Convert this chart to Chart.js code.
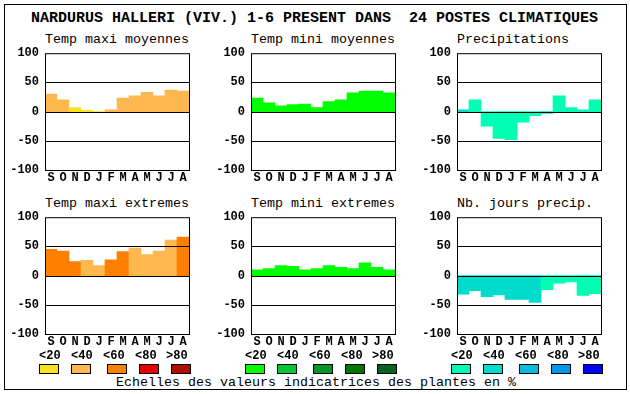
<!DOCTYPE html>
<html>
<head>
<meta charset="utf-8">
<script src="https://cdn.jsdelivr.net/npm/chart.js@4.4.0/dist/chart.umd.min.js"></script>
<style>
  body { margin: 0; background: #fff; }
  #page { position: relative; width: 630px; height: 394px; overflow: hidden; font-family: "Liberation Mono", monospace; color: #000; }
  #frame { position: absolute; left: 4px; top: 4px; width: 621px; height: 384px; border: 1px solid #000; }
  .txt { position: absolute; white-space: pre; line-height: 1; }
  .sub { font-size: 13.33px; }
  .lg { position: absolute; font-size: 12px; font-weight: bold; line-height: 1; white-space: pre; }
  .sw { position: absolute; width: 18px; height: 8px; border: 1px solid #000; }
  canvas { position: absolute; }
</style>
</head>
<body>
<div id="page">
  <div id="frame"></div>
  <div class="txt" style="left:31px; top:11px; font-size:15px; font-weight:bold;">NARDURUS HALLERI (VIV.) 1-6 PRESENT DANS  24 POSTES CLIMATIQUES</div>
  <div class="txt sub" style="left:116px; top:375.5px;">Echelles des valeurs indicatrices des plantes en %</div>
</div>
<script>
// Donnees
var months = ["S", "O", "N", "D", "J", "F", "M", "A", "M", "J", "J", "A"];
var yTicks = [-100, -50, 0, 50, 100];
var gridLines = [50, 0, -50];
var classLabels = ["<20", "<40", "<60", "<80", ">80"];

var orangeScale = ["#f8e41c", "#ffb850", "#ff8000", "#e80000", "#b00c00"];
var greenScale = ["#00ff00", "#00c832", "#009628", "#007800", "#006420"];
var blueScale = ["#00ffb4", "#00dccc", "#00bcdc", "#0098e8", "#0000ff"];

var tempMaxiMoy = [30, 20, 7, 2, 0, 3, 23, 27, 33, 27, 37, 35];
var tempMaxiMoyCls = [1, 1, 0, 0, 0, 1, 1, 1, 1, 1, 1, 1];
var tempMiniMoy = [23, 15, 10, 12, 13, 7, 17, 20, 32, 35, 35, 32];
var tempMiniMoyCls = [0, 0, 0, 0, 0, 0, 0, 0, 0, 0, 0, 0];
var precip = [3, 20, -25, -46, -48, -18, -7, -3, 27, 7, 3, 20];
var precipCls = [1, 0, 0, 0, 0, 0, 0, 1, 0, 0, 0, 0];
var tempMaxiExt = [45, 42, 24, 26, 17, 27, 41, 47, 36, 42, 61, 66];
var tempMaxiExtCls = [2, 2, 2, 1, 1, 2, 2, 1, 1, 1, 1, 2];
var tempMiniExt = [10, 12, 17, 16, 10, 12, 17, 14, 12, 22, 14, 10];
var tempMiniExtCls = [0, 0, 0, 0, 0, 0, 0, 0, 0, 0, 0, 0];
var joursPrecip = [-32, -26, -36, -33, -41, -41, -46, -24, -13, -11, -34, -31];
var joursPrecipCls = [1, 1, 1, 1, 1, 1, 1, 0, 0, 0, 0, 0];

var page = document.getElementById("page");
var tickFont = { family: "Liberation Mono", size: 12, weight: "bold" };

// Cadre et lignes 50 / 0 / -50 par-dessus les barres
var framePlugin = {
  id: "frame",
  afterDatasetsDraw: function (chart) {
    var ctx = chart.ctx;
    var a = chart.chartArea;
    var y = chart.scales.y;
    ctx.save();
    ctx.strokeStyle = "#000";
    ctx.lineWidth = 1;
    ctx.beginPath();
    gridLines.forEach(function (v) {
      var py = Math.round(y.getPixelForValue(v)) + 0.5;
      ctx.moveTo(a.left, py);
      ctx.lineTo(a.right, py);
    });
    ctx.stroke();
    ctx.strokeRect(a.left + 0.5, a.top + 0.5, a.right - a.left, a.bottom - a.top);
    ctx.restore();
  }
};

function addText(cls, text, left, top) {
  var d = document.createElement("div");
  d.className = cls;
  d.textContent = text;
  d.style.left = left + "px";
  d.style.top = top + "px";
  page.appendChild(d);
}

function makeChart(title, values, cls, palette, left, top) {
  addText("txt sub", title, left, top - 17.5);

  var cv = document.createElement("canvas");
  cv.width = 200;
  cv.height = 150;
  cv.style.left = (left - 45) + "px";
  cv.style.top = (top - 10) + "px";
  page.appendChild(cv);

  new Chart(cv.getContext("2d"), {
    type: "bar",
    data: {
      labels: months,
      datasets: [{
        data: values,
        backgroundColor: cls.map(function (c) { return palette[c]; }),
        borderWidth: 0,
        categoryPercentage: 1,
        barPercentage: 1
      }]
    },
    options: {
      responsive: false,
      animation: false,
      devicePixelRatio: 1,
      layout: { padding: { top: 10, right: 11, left: 0, bottom: 0 } },
      plugins: { legend: { display: false }, tooltip: { enabled: false } },
      scales: {
        x: {
          grid: { display: false, drawTicks: false },
          border: { display: false },
          ticks: { font: tickFont, color: "#000", padding: 1, maxRotation: 0, autoSkip: false },
          afterFit: function (s) { s.height = 20; }
        },
        y: {
          min: -100,
          max: 100,
          afterBuildTicks: function (s) { s.ticks = yTicks.map(function (v) { return { value: v }; }); },
          grid: { display: false, drawTicks: false },
          border: { display: false },
          ticks: { font: tickFont, color: "#000", padding: 6 },
          afterFit: function (s) { s.width = 45; }
        }
      }
    },
    plugins: [framePlugin]
  });
}

function makeLegend(palette, left) {
  var labelOff = [-6, 26, 58, 90, 121];
  var swOff = [-6, 26, 62, 94, 126];
  classLabels.forEach(function (t, i) {
    addText("lg", t, left + labelOff[i], 349.5);
    var s = document.createElement("div");
    s.className = "sw";
    s.style.left = (left + swOff[i]) + "px";
    s.style.top = "364px";
    s.style.background = palette[i];
    page.appendChild(s);
  });
}

makeChart("Temp maxi moyennes", tempMaxiMoy, tempMaxiMoyCls, orangeScale, 45, 50);
makeChart("Temp mini moyennes", tempMiniMoy, tempMiniMoyCls, greenScale, 251, 50);
makeChart("Precipitations", precip, precipCls, blueScale, 457, 50);
makeChart("Temp maxi extremes", tempMaxiExt, tempMaxiExtCls, orangeScale, 45, 214);
makeChart("Temp mini extremes", tempMiniExt, tempMiniExtCls, greenScale, 251, 214);
makeChart("Nb. jours precip.", joursPrecip, joursPrecipCls, blueScale, 457, 214);

makeLegend(orangeScale, 45);
makeLegend(greenScale, 251);
makeLegend(blueScale, 457);
</script>
</body>
</html>
